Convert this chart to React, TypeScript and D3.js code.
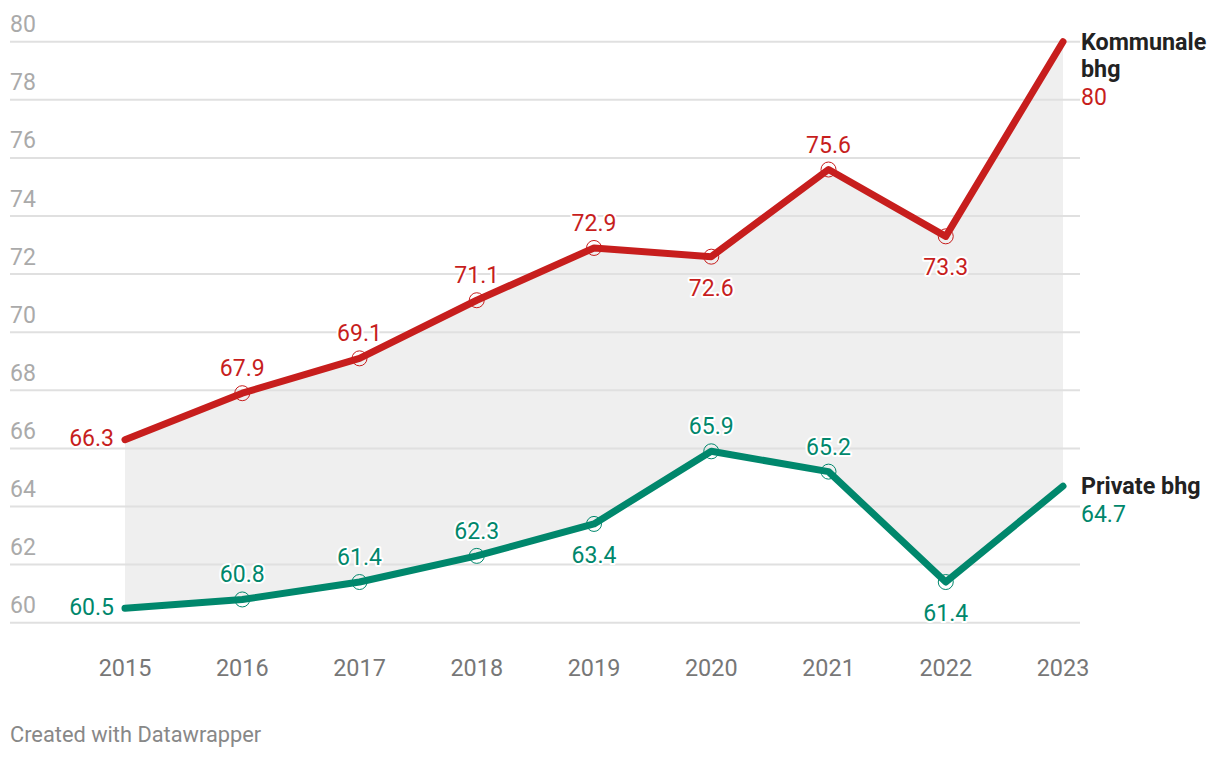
import React from "react";
import * as d3 from "d3";

const years = [2015, 2016, 2017, 2018, 2019, 2020, 2021, 2022, 2023];
const kommunale = [66.3, 67.9, 69.1, 71.1, 72.9, 72.6, 75.6, 73.3, 80];
const privat = [60.5, 60.8, 61.4, 62.3, 63.4, 65.9, 65.2, 61.4, 64.7];
const yTicks = [60, 62, 64, 66, 68, 70, 72, 74, 76, 78, 80];
// label placement per point: "left" | "above" | "below" | "none"
const kommunalePlacement = ["left", "above", "above", "above", "above", "below", "above", "below", "none"];
const privatPlacement = ["left", "above", "above", "above", "below", "above", "above", "below", "none"];

const RED = "#c71e1d";
const GREEN = "#00876c";
const FONT = "Roboto, 'Noto Sans', sans-serif";

export default function App() {
  const W = 1220, H = 758;
  const x = d3.scaleLinear().domain([2015, 2023]).range([125, 1063]);
  const y = d3.scaleLinear().domain([60, 80]).range([622.7, 41.7]);

  const idx = years.map((_, i) => i);
  const area = d3
    .area<number>()
    .x((i) => x(years[i]))
    .y0((i) => y(privat[i]))
    .y1((i) => y(kommunale[i]));
  const line = (vals: number[]) =>
    d3.line<number>().x((i) => x(years[i])).y((i) => y(vals[i]))(idx) || "";

  const series = [
    { name: ["Kommunale", "bhg"], vals: kommunale, color: RED, place: kommunalePlacement },
    { name: ["Private bhg"], vals: privat, color: GREEN, place: privatPlacement },
  ];

  return (
    <svg width={W} height={H} style={{ position: "absolute", left: 0, top: 0, background: "#fff" }} fontFamily={FONT}>
      <path d={area(idx) || ""} fill="#efefef" />
      {yTicks.map((t) => (
        <g key={t}>
          <line x1={10} x2={1080} y1={y(t)} y2={y(t)} stroke="#e0e0e0" strokeWidth={2} />
          <text x={10} y={y(t) - 9.5} fontSize={23} fill="#aaaaaa">
            {t}
          </text>
        </g>
      ))}
      {years.map((yr) => (
        <text key={yr} x={x(yr)} y={676} fontSize={23.4} fill="#777" textAnchor="middle">
          {yr}
        </text>
      ))}
      {series.map((s, si) => (
        <g key={si}>
          <path d={line(s.vals)} fill="none" stroke={s.color} strokeWidth={7} strokeLinecap="round" strokeLinejoin="round" />
          {s.vals.map((v, i) =>
            i > 0 && i < s.vals.length - 1 ? (
              <circle key={i} cx={x(years[i])} cy={y(v)} r={7.5} fill="none" stroke={s.color} strokeWidth={1} />
            ) : null
          )}
          {s.vals.map((v, i) => {
            const p = s.place[i];
            if (p === "none") return null;
            const px = x(years[i]);
            const py = y(v);
            let tx = px, ty = py, anchor: "start" | "middle" | "end" = "middle";
            if (p === "left") {
              tx = px - 11;
              ty = py + 6.5;
              anchor = "end";
            } else if (p === "above") {
              ty = py - 17;
            } else {
              ty = py + 39;
            }
            return (
              <text
                key={"l" + i}
                x={tx}
                y={ty}
                fontSize={23}
                fill={s.color}
                textAnchor={anchor}
                stroke="#fff"
                strokeWidth={4}
                paintOrder="stroke"
                strokeLinejoin="round"
              >
                {v}
              </text>
            );
          })}
          {(() => {
            const last = s.vals.length - 1;
            const ly = y(s.vals[last]);
            const lines = s.name;
            const startY = ly + 8;
            return (
              <g>
                {lines.map((n, k) => (
                  <text key={k} x={1081} y={startY + k * 27.5} fontSize={23.3} fontWeight="bold" fill="#222">
                    {n}
                  </text>
                ))}
                <text x={1081} y={startY + lines.length * 27.5} fontSize={23} fill={s.color}>
                  {s.vals[last]}
                </text>
              </g>
            );
          })()}
        </g>
      ))}
      <text x={10} y={742} fontSize={21.8} fill="#888">
        Created with Datawrapper
      </text>
    </svg>
  );
}
